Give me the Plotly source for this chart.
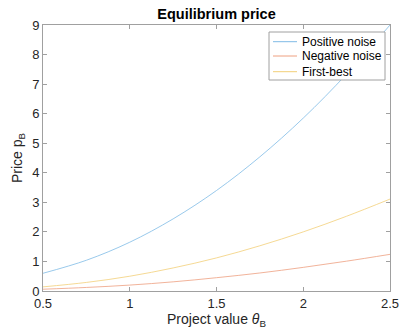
import plotly.graph_objects as go

theta = [0.5, 0.75, 1.0, 1.25, 1.5, 1.75, 2.0, 2.25, 2.5]
positive_noise = [0.6, 1.04, 1.65, 2.44, 3.4, 4.54, 5.85, 7.34, 9.0]
negative_noise = [0.06, 0.12, 0.2, 0.31, 0.45, 0.61, 0.8, 1.01, 1.24]
first_best = [0.14, 0.29, 0.5, 0.78, 1.12, 1.53, 2.0, 2.53, 3.11]

series_names = ["Positive noise", "Negative noise", "First-best"]
series_colors = ["#7fbbe6", "#eea080", "#f2cf78"]

x_ticks = [0.5, 1, 1.5, 2, 2.5]
x_tick_labels = ["0.5", "1", "1.5", "2", "2.5"]
y_ticks = list(range(0, 10))

font = "Liberation Sans, Arial, sans-serif"

fig = go.Figure()
for name, vals, col in zip(series_names, [positive_noise, negative_noise, first_best], series_colors):
    fig.add_trace(go.Scatter(x=theta, y=vals, mode="lines", name=name, showlegend=False,
                             line=dict(color=col, width=0.8, shape="spline")))

# MATLAB-style compact legend box (drawn in plot-area paper coordinates)
PW, PH = 347.0, 266.0  # plot area size in px


def px_x(p):
    return p / PW


def px_y(p):
    return 1 - p / PH


shapes = [dict(type="rect", xref="paper", yref="paper",
               x0=px_x(226), x1=px_x(342), y0=px_y(55), y1=px_y(7),
               fillcolor="white", line=dict(color="#a0a0a0", width=1), layer="above")]
annotations = []
row_y = [16.7, 31.0, 46.7]
for name, col, ry in zip(series_names, series_colors, row_y):
    shapes.append(dict(type="line", xref="paper", yref="paper",
                       x0=px_x(230), x1=px_x(254), y0=px_y(ry), y1=px_y(ry),
                       line=dict(color=col, width=1), layer="above"))
    annotations.append(dict(text=name, xref="paper", yref="paper", x=px_x(257), y=px_y(ry),
                            xanchor="left", yanchor="middle", showarrow=False,
                            font=dict(family=font, size=12, color="black")))

axis_common = dict(showgrid=False, zeroline=False, showline=True, linecolor="#a0a0a0",
                   linewidth=1, mirror="ticks", ticks="inside", ticklen=4, tickcolor="#a0a0a0",
                   automargin=False,
                   tickfont=dict(family=font, size=13, color="#262626"))

fig.update_layout(
    width=400, height=333,
    margin=dict(l=43, r=10, t=25, b=42),
    paper_bgcolor="white", plot_bgcolor="white",
    title=dict(text="<b>Equilibrium price</b>", x=(43 + 347 / 2) / 400, xanchor="center",
               y=1 - 14 / 333, yanchor="middle", automargin=False,
               font=dict(family=font, size=14.5, color="black")),
    xaxis=dict(range=[0.5, 2.5], tickvals=x_ticks, ticktext=x_tick_labels,
               title=dict(text="Project value <i>θ</i><sub>B</sub>", standoff=4,
                          font=dict(family=font, size=14, color="#262626")),
               **axis_common),
    yaxis=dict(range=[0, 9], tickvals=y_ticks,
               title=dict(text="Price p<sub>B</sub>", standoff=6,
                          font=dict(family=font, size=14, color="#262626")),
               **axis_common),
    shapes=shapes,
    annotations=annotations,
    showlegend=False,
)

# remove the browser's default 8px page margin so the 400x333 figure fills the window
fig.write_html("out.html", config={"displayModeBar": False},
               post_script="document.body.style.margin='0px';")
